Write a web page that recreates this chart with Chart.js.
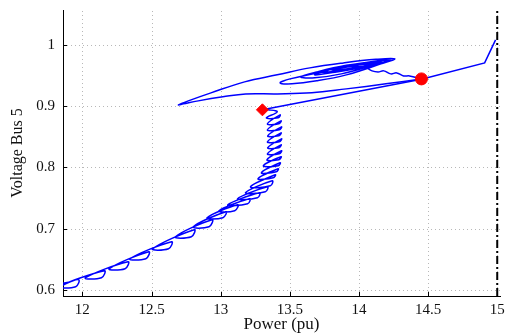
<!DOCTYPE html>
<html>
<head>
<meta charset="utf-8">
<script src="https://cdn.jsdelivr.net/npm/chart.js@4.4.0/dist/chart.umd.min.js"></script>
<style>
  html, body { margin: 0; padding: 0; background: #fff; }
  canvas { display: block; }
</style>
</head>
<body>
<canvas id="pv" width="507" height="335"></canvas>
<script>
// axis ticks
const xTicks = [12, 12.5, 13, 13.5, 14, 14.5, 15];
const yTicks = [0.6, 0.7, 0.8, 0.9, 1];

// oscillating lower branch, from bottom-left up to the diamond
const branchP = [11.766, 11.880,
  11.973, 11.952, 11.838,
  12.159, 12.138, 12.023,
  12.330, 12.309, 12.195,
  12.480, 12.459, 12.345,
  12.645, 12.623, 12.509,
  12.809, 12.788, 12.673,
  12.938, 12.916, 12.802,
  13.038, 13.016, 12.902,
  13.123, 13.102, 12.988,
  13.209, 13.195, 13.052,
  13.280, 13.266, 13.123,
  13.338, 13.323, 13.180,
  13.373, 13.359, 13.216,
  13.395, 13.380, 13.270,
  13.416, 13.402, 13.295,
  13.430, 13.416, 13.309,
  13.437, 13.420, 13.335,
  13.440, 13.424, 13.338,
  13.437, 13.420, 13.340,
  13.440, 13.424, 13.338,
  13.437, 13.420, 13.340,
  13.440, 13.424, 13.338,
  13.437, 13.420, 13.338,
  13.430, 13.416, 13.330,
  13.409, 13.345, 13.302];
const branchV = [0.6101, 0.6117,
  0.6166, 0.6052, 0.6052,
  0.6313, 0.6199, 0.6199,
  0.6460, 0.6346, 0.6346,
  0.6623, 0.6509, 0.6509,
  0.6786, 0.6672, 0.6672,
  0.6982, 0.6868, 0.6868,
  0.7145, 0.7031, 0.7031,
  0.7276, 0.7178, 0.7178,
  0.7390, 0.7292, 0.7292,
  0.7488, 0.7406, 0.7390,
  0.7586, 0.7504, 0.7488,
  0.7683, 0.7602, 0.7586,
  0.7781, 0.7700, 0.7683,
  0.7879, 0.7830, 0.7814,
  0.7977, 0.7928, 0.7912,
  0.8075, 0.8026, 0.8026,
  0.8173, 0.8124, 0.8124,
  0.8271, 0.8222, 0.8222,
  0.8369, 0.8320, 0.8320,
  0.8467, 0.8418, 0.8418,
  0.8564, 0.8515, 0.8515,
  0.8662, 0.8613, 0.8613,
  0.8760, 0.8711, 0.8711,
  0.8858, 0.8809, 0.8809,
  0.8907, 0.8940, 0.8940];

// big loop and spiral around the upper equilibrium
const spiralP = [14.452, 14.195, 13.909, 13.659, 13.409, 13.180, 13.016, 12.838, 12.730, 12.695,
  12.766, 12.930, 13.173, 13.409, 13.645, 13.888, 14.123, 14.259,
  14.159, 13.909, 13.695, 13.516, 13.430,
  13.502, 13.695, 13.909, 14.123, 14.230,
  14.088, 13.873, 13.680, 13.580,
  13.695, 13.909, 14.159, 14.202,
  14.038, 13.838, 13.680,
  13.788, 13.980, 14.166,
  13.995, 13.838, 13.730,
  13.859, 14.052, 14.138,
  13.966, 13.809, 13.780, 13.923, 14.088,
  13.945, 13.838, 13.952, 14.038,
  14.095, 14.138, 14.180, 14.230, 14.273, 14.323, 14.366, 14.452];
const spiralV = [0.9445, 0.9364, 0.9282, 0.9217, 0.9200, 0.9200, 0.9152, 0.9086, 0.9037, 0.9021,
  0.9086, 0.9217, 0.9396, 0.9511, 0.9625, 0.9706, 0.9764, 0.9772,
  0.9690, 0.9511, 0.9413, 0.9364, 0.9380,
  0.9445, 0.9543, 0.9657, 0.9739, 0.9755,
  0.9657, 0.9527, 0.9462, 0.9478,
  0.9559, 0.9666, 0.9739, 0.9731,
  0.9641, 0.9559, 0.9511,
  0.9592, 0.9690, 0.9723,
  0.9641, 0.9576, 0.9559,
  0.9641, 0.9706, 0.9706,
  0.9625, 0.9592, 0.9608, 0.9657, 0.9690,
  0.9608, 0.9608, 0.9649, 0.9641,
  0.9576, 0.9559, 0.9576, 0.9527, 0.9543, 0.9494, 0.9494, 0.9445];

// straight pieces: diamond -> circle -> top right
const linkP = [13.302, 14.452, 14.909, 14.988];
const linkV = [0.8940, 0.9440, 0.9706, 1.0082];

// marked operating points
const diamondP = [13.302], diamondV = [0.8940];
const circleP = [14.452], circleV = [0.9445];

// limit line
const limitP = [15, 15];
const limitV = [0.59, 1.057];

const pts = (xs, ys) => xs.map((v, i) => ({ x: v, y: ys[i] }));

const gridPlugin = {
  id: 'dottedGrid',
  beforeDatasetsDraw(chart) {
    const { ctx, chartArea: a, scales: { x, y } } = chart;
    ctx.save();
    ctx.lineWidth = 1;
    ctx.strokeStyle = '#b8b8b8';
    ctx.setLineDash([1, 3]);
    xTicks.forEach(v => {
      const px = Math.round(x.getPixelForValue(v)) + 0.5;
      ctx.beginPath(); ctx.moveTo(px, a.bottom); ctx.lineTo(px, a.top); ctx.stroke();
    });
    yTicks.forEach(v => {
      const py = Math.round(y.getPixelForValue(v)) + 0.5;
      ctx.beginPath(); ctx.moveTo(a.left, py); ctx.lineTo(a.right, py); ctx.stroke();
    });
    ctx.setLineDash([]);
    ctx.strokeStyle = '#000';
    xTicks.forEach(v => {
      const px = Math.round(x.getPixelForValue(v)) + 0.5;
      ctx.beginPath(); ctx.moveTo(px, a.bottom); ctx.lineTo(px, a.bottom - 4); ctx.stroke();
    });
    yTicks.forEach(v => {
      const py = Math.round(y.getPixelForValue(v)) + 0.5;
      ctx.beginPath(); ctx.moveTo(a.left, py); ctx.lineTo(a.left + 4, py); ctx.stroke();
    });
    ctx.restore();
  }
};

const serif = '"Liberation Serif", "Times New Roman", serif';
const font = { family: serif, size: 15 };

new Chart(document.getElementById('pv'), {
  type: 'scatter',
  data: {
    datasets: [
      { data: pts(diamondP, diamondV), pointStyle: 'rectRot', pointRadius: 6, backgroundColor: '#ff0000', borderColor: '#ff0000', borderWidth: 1, order: 0 },
      { data: pts(circleP, circleV), pointStyle: 'circle', pointRadius: 6, backgroundColor: '#ff0000', borderColor: '#ff0000', borderWidth: 1, order: 0 },
      { data: pts(branchP, branchV), showLine: true, tension: 0.4, borderColor: '#0000ff', borderWidth: 1.5, pointRadius: 0, order: 1 },
      { data: pts(spiralP, spiralV), showLine: true, tension: 0.4, borderColor: '#0000ff', borderWidth: 1.5, pointRadius: 0, order: 1 },
      { data: pts(linkP, linkV), showLine: true, tension: 0, borderColor: '#0000ff', borderWidth: 1.5, pointRadius: 0, order: 1 },
      { data: pts(limitP, limitV), showLine: true, borderColor: '#000', borderWidth: 2, borderDash: [8, 3, 2, 3], pointRadius: 0, order: 2 }
    ]
  },
  options: {
    responsive: false,
    animation: false,
    devicePixelRatio: 1,
    layout: { padding: { top: 10, right: 2, left: 0, bottom: 0 } },
    plugins: { legend: { display: false }, tooltip: { enabled: false } },
    scales: {
      x: {
        type: 'linear', min: 11.86, max: 15.02,
        afterBuildTicks: s => { s.ticks = xTicks.map(v => ({ value: v })); },
        afterFit: s => { s.height = 39; s.paddingLeft = 0; s.paddingRight = 0; },
        grid: { display: false, drawTicks: false },
        border: { display: true, color: '#000', width: 1 },
        ticks: { color: '#111', font, padding: 5, maxRotation: 0, autoSkip: false, callback: v => String(v) },
        title: { display: true, text: 'Power (pu)', color: '#111', font: { family: serif, size: 17 }, padding: { top: 0, bottom: 0 } }
      },
      y: {
        type: 'linear', min: 0.59, max: 1.057,
        afterBuildTicks: s => { s.ticks = yTicks.map(v => ({ value: v })); },
        afterFit: s => { s.width = 63; s.paddingTop = 0; s.paddingBottom = 0; },
        grid: { display: false, drawTicks: false },
        border: { display: true, color: '#000', width: 1 },
        ticks: { color: '#111', font, padding: 8, autoSkip: false, callback: v => String(v) },
        title: { display: true, text: 'Voltage Bus 5', color: '#111', font: { family: serif, size: 16 }, padding: { top: 8, bottom: 0 } }
      }
    }
  },
  plugins: [gridPlugin]
});
</script>
</body>
</html>
